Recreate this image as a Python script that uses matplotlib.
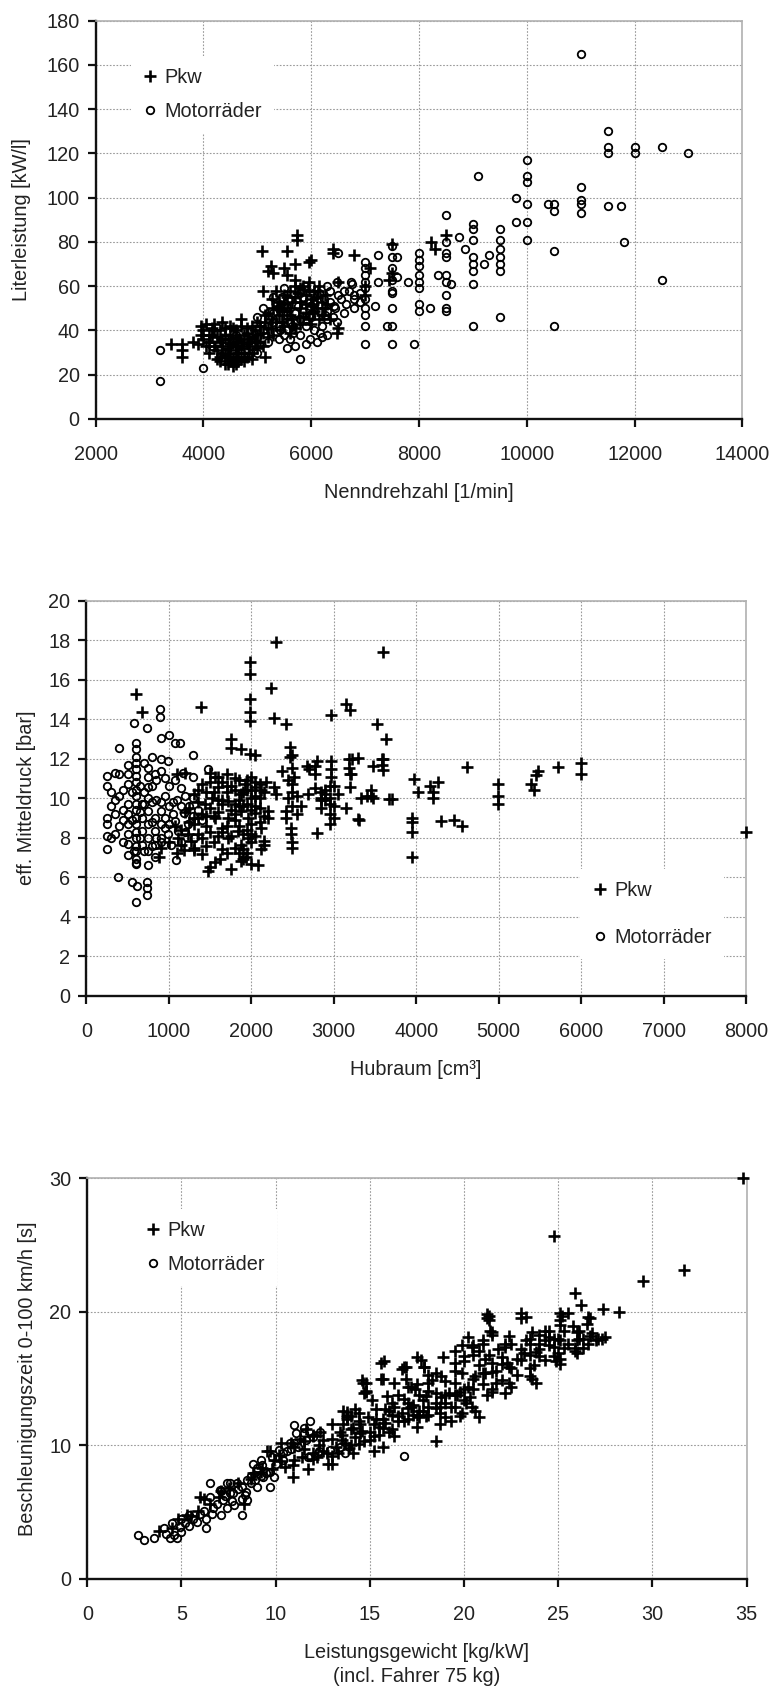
import matplotlib
matplotlib.use('Agg')
import matplotlib.pyplot as plt
from matplotlib.ticker import MultipleLocator

plt.rcParams['font.family'] = ['Liberation Sans', 'DejaVu Sans']
plt.rcParams['text.color'] = '#222222'
plt.rcParams['axes.labelcolor'] = '#222222'
plt.rcParams['xtick.color'] = '#111111'
plt.rcParams['ytick.color'] = '#111111'
plt.rcParams['xtick.labelcolor'] = '#222222'
plt.rcParams['ytick.labelcolor'] = '#222222'

# ---- Panel 1: Nenndrehzahl [1/min] vs Literleistung [kW/l] ----
p1_pkw_rpm = [3400, 3600, 3600, 3600, 3950, 3950, 3900, 4000, 4100, 4100, 4050, 4200, 4250, 4300, 4350,
              4350, 4400, 4400, 4450, 4500, 4500, 4550, 4550, 4600, 4600, 4650, 4700, 4700, 4750, 4750,
              4800, 4850, 4900, 4900, 5000, 5000, 5050, 5150, 5200, 4200, 4300, 4450, 4650, 4800, 4250,
              4150, 4500, 4600, 4700, 4950, 4850, 5100,
              5100, 5080, 5250, 5200, 5300, 5500, 5550, 5550, 5700, 5730, 5730, 5950, 6000, 5700, 5950,
              5850, 6130, 5270, 5360, 5550, 5770, 6040, 5950, 5640, 5430, 5270, 5050, 5550, 6040, 6480,
              6500, 5400, 5500, 5600, 5650, 5700, 5800, 5800, 5900, 5900, 6000, 6100, 6150, 6200, 6250,
              5350, 5450, 5600, 5700, 5200, 5300, 5150, 6300, 6050, 6200,
              6400, 6400, 6790, 7000, 7100, 7500, 7500, 7450, 8230, 8300, 8500, 6500, 7000,
              4100, 4150, 4200, 4250, 4300, 4350, 4400, 4450, 4500, 4550, 4550, 4600, 4650, 4650, 4700,
              4750, 4800, 4850, 4900, 4950, 5000, 5050, 5100, 5150, 5250, 5300, 5350, 5400, 5450, 5500,
              5500, 5550, 5600, 5650, 5700, 5750, 5800, 5850, 5900, 5950, 6000, 6050, 6100, 6150, 6250,
              6350, 4000, 4050, 3800, 4350, 4450, 4600,
              4300, 4400, 4500, 4600, 4700, 4800, 4900, 5000, 5200, 5400, 5600, 5800, 6000]
p1_pkw_kwl = [34, 34, 31, 28, 42, 38, 34, 36, 35, 30, 43, 40, 31, 40, 44,
              33, 38, 25, 28, 26, 31, 35, 24, 25, 40, 30, 27, 45, 38, 26,
              34, 30, 30, 42, 32, 38, 42, 28, 37, 33, 28, 36, 33, 41, 37,
              38, 42, 28, 32, 35, 36, 33,
              58, 76, 69, 67, 66, 68, 65, 76, 70, 83, 81, 71, 72, 63, 62,
              60, 58, 54, 51, 49, 46, 48, 45, 42, 40, 45, 42, 55, 52, 39,
              41, 47, 52, 58, 45, 55, 50, 43, 56, 48, 54, 50, 60, 47, 56,
              58, 44, 39, 60, 48, 38, 44, 52, 58, 53,
              77, 75, 74, 60, 68, 79, 66, 63, 80, 77, 83, 62, 56,
              38, 41, 43, 27, 35, 30, 41, 32, 38, 27, 41, 33, 36, 26, 35,
              30, 28, 33, 37, 40, 44, 35, 39, 47, 41, 50, 44, 53, 49, 42,
              56, 45, 50, 53, 41, 57, 53, 46, 52, 58, 43, 49, 55, 45, 50,
              45, 40, 33, 35, 36, 25, 37,
              26, 29, 34, 30, 42, 39, 27, 35, 41, 50, 47, 59, 51]

p1_moto_rpm = [3200, 3200, 4000, 5800, 5550, 5980, 6480, 6730, 7000, 7000, 7000, 7000, 7000, 7000, 7000,
               7000, 7000, 7000, 7230, 7230, 7190, 6790, 6600, 6500, 6415, 6290, 6170, 6230, 6480, 5980,
               5790, 5490, 5490, 5300, 5180, 4990, 4870, 4680, 4530, 4340, 4150, 4990, 5430, 5670, 5610,
               5890, 6100, 6290, 6290, 6500, 6800, 6750, 7500, 7500, 7500, 7500, 7500, 7500, 7500, 7500,
               7500, 7400, 7600, 7600, 7800, 7900, 8000, 8000, 8000, 8000, 8000, 8000, 8000, 8000, 8200,
               8350, 8500, 8500, 8500, 8500, 8500, 8500, 8500, 8500, 8500, 8600, 8750, 8850, 9000, 9000,
               9000, 9000, 9000, 9000, 9000, 9000, 9100, 9200, 9300, 9500, 9500, 9500, 9500, 9500, 9500,
               9500, 9800, 9800, 10000, 10000, 10000, 10000, 10000, 10000, 10400, 10500, 10500, 10500,
               10500, 11000, 11000, 11000, 11000, 11000, 11500, 11500, 11500, 11500, 11750, 11800, 12000,
               12000, 12500, 12500, 13000,
               5200, 5400, 5600, 5800, 5900, 6000, 6050, 6200, 6300, 6400, 6100, 5700, 5500, 5100, 5300,
               5400, 5700, 6000, 5800, 4800, 4600, 4400, 4200, 4500, 4700, 5000, 6350, 6600, 6650, 6900,
               5300, 5450, 5550, 5650, 5750, 5850, 5950, 6050, 6150, 6250, 6350, 6450, 6550, 6700, 6800,
               6900, 5600, 5900, 6200, 4900, 5100, 5200]
p1_moto_kwl = [31, 17, 23, 27, 32, 36, 62, 62, 71, 68, 65, 62, 59, 54, 50,
               47, 42, 34, 74, 62, 51, 54, 48, 56, 51, 45, 39, 54, 44, 51,
               45, 59, 51, 48, 42, 46, 40, 34, 31, 36, 33, 37, 40, 39, 54,
               60, 56, 60, 49, 75, 56, 61, 78, 73, 68, 63, 58, 57, 50, 42,
               34, 42, 73, 64, 62, 34, 75, 72, 69, 65, 62, 59, 52, 49, 50,
               65, 92, 80, 75, 73, 65, 62, 56, 50, 49, 61, 82, 77, 88, 86,
               81, 73, 70, 67, 61, 42, 110, 70, 74, 86, 81, 77, 73, 70, 67,
               46, 100, 89, 117, 110, 107, 97, 89, 81, 97, 97, 94, 76,
               42, 165, 105, 99, 97, 93, 130, 123, 120, 96, 96, 80, 123,
               120, 123, 63, 120,
               35, 36, 44, 38, 42, 46, 40, 42, 38, 46, 35, 33, 38, 50, 55,
               42, 48, 60, 57, 36, 38, 33, 36, 28, 30, 30, 58, 58, 52, 53,
               44, 55, 47, 42, 51, 55, 47, 52, 57, 47, 53, 50, 54, 58, 50,
               57, 36, 34, 37, 33, 40, 45]

# ---- Panel 2: Hubraum [cm3] vs eff. Mitteldruck [bar] ----
p2_pkw_ccm = [600, 670, 1390, 2300, 3600, 1980, 1980, 2240, 1980, 1980, 1980, 2280, 2420, 2970, 3150,
              3200, 3520, 3630, 1760, 1760, 1870, 1980, 2050, 2470, 2470, 3590, 3590, 3480, 2670, 2770,
              2770, 2800, 2970, 2970, 2970, 3190, 3300, 3190, 2370, 2490, 1500, 1600, 2180, 2280, 3210,
              3200, 3670, 3450, 3330, 2500, 2500, 2520, 2420, 2420, 2200, 2480, 2480, 2500, 2500, 2800,
              3290, 2950, 2950, 3000, 2950, 2850, 2890, 2770, 2690, 3450, 3150, 1940, 1880, 2000, 2080,
              2120, 2160, 1480, 1760, 1500, 1620, 1560, 1920, 2000, 2040, 1880, 2000, 2120, 1800, 1720,
              1800, 1880, 1960, 2040, 2000, 1560, 1600, 1520, 1640, 1560, 1640, 1720, 1440, 1400, 1310,
              1350, 1270, 1310, 1400, 1150, 1230, 1190, 1720, 1800, 1840, 1960, 1880, 2120, 2160, 1070,
              1110, 880, 2200, 3600, 3600, 3708, 3978, 4020, 3950, 3950, 3950, 3950, 4170, 4210, 4200,
              4260, 4300, 4460, 4560, 4620, 4990, 4990, 4990, 5390, 5430, 5480, 5450, 5715, 6000, 6000,
              8000, 3480, 3400, 3310, 3220, 3200, 2700, 2500, 1900, 1950, 2050, 1850, 1700, 1650, 1450,
              1300, 1200, 1350, 1250, 1150, 1000, 900, 1100, 2100, 2300, 2600, 2550, 2900, 3050, 2850,
              3000, 1100, 1200, 1700,
              1250, 1300, 1350, 1400, 1450, 1500, 1500, 1550, 1550, 1600, 1600, 1650, 1650, 1700, 1700,
              1750, 1750, 1800, 1800, 1850, 1850, 1900, 1900, 1950, 1950, 2000, 2000, 2000, 2050, 2050,
              2100, 2100, 2150, 1950, 1900, 1850, 2450, 2550, 2500, 2450, 2850, 2900, 2950, 2950, 3000,
              2850,
              1300, 1350, 1450, 1500, 1550, 1600, 1650, 1700, 1750, 1800, 1850, 1900, 1950, 2000, 2050,
              2100, 2150, 1400, 1450]
p2_pkw_bar = [15.3, 14.35, 14.6, 17.9, 17.4, 16.9, 16.3, 15.6, 15.0, 14.35, 13.9, 14.05, 13.75, 14.2, 14.75,
              14.45, 13.75, 13.0, 13.0, 12.55, 12.5, 12.25, 12.2, 12.6, 12.1, 12.0, 11.7, 11.65, 11.65, 11.65,
              11.2, 11.9, 11.9, 11.5, 11.05, 12.0, 12.05, 11.55, 11.4, 11.55, 11.3, 11.05, 10.8, 10.55, 11.2,
              10.55, 9.95, 10.1, 10.0, 10.3, 10.7, 11.05, 9.35, 9.0, 9.35, 8.5, 8.2, 7.8, 7.5, 8.25,
              8.95, 9.7, 9.2, 9.0, 8.7, 10.0, 10.2, 10.5, 10.2, 10.4, 9.5, 7.0, 6.8, 6.65, 6.6,
              7.4, 7.65, 6.3, 6.4, 6.5, 6.9, 6.75, 10.7, 11.05, 10.55, 10.2, 10.0, 10.4, 10.4, 9.85,
              9.7, 9.35, 9.0, 9.25, 8.7, 11.05, 10.55, 10.0, 9.7, 9.0, 8.5, 9.0, 9.7, 9.2, 8.7,
              8.2, 7.85, 7.35, 7.15, 7.65, 8.2, 7.35, 8.0, 7.5, 8.35, 8.0, 7.65, 8.5, 7.85, 8.6,
              8.0, 7.0, 9.0, 11.96, 11.45, 9.97, 10.95, 10.3, 9.0, 8.8, 8.3, 7.0, 10.6, 10.0, 10.3,
              10.8, 8.83, 8.9, 8.6, 11.6, 10.7, 10.1, 9.7, 10.7, 10.4, 11.4, 11.17, 11.57, 11.8, 11.2,
              8.3, 10.0, 10.1, 8.9, 12.0, 11.2, 11.5, 12.2, 10.3, 10.9, 10.8, 9.9, 10.3, 10.8, 8.6,
              7.5, 9.3, 9.8, 8.8, 8.4, 7.8, 7.5, 7.2, 10.0, 10.2, 9.6, 9.2, 9.9, 10.2, 9.5,
              10.6, 11.2, 11.3, 11.2,
              9.5, 10.2, 9.0, 8.0, 10.3, 9.5, 8.3, 7.8, 10.3, 9.3, 8.1, 7.4, 9.9, 8.6, 7.2,
              10.6, 9.4, 8.9, 11.0, 8.6, 10.9, 9.6, 7.4, 10.4, 8.4, 10.4, 9.4, 7.8, 10.1, 8.1,
              10.7, 9.5, 9.1, 7.2, 6.9, 7.2, 10.0, 10.1, 9.6, 10.9, 10.3, 10.4, 10.0, 10.6, 9.6,
              9.9,
              9.0, 10.4, 7.6, 10.8, 9.1, 9.9, 8.3, 10.6, 8.1, 9.2, 9.6, 8.2, 9.7, 8.2, 9.6,
              8.8, 10.3, 10.7, 9.1]

p2_moto_ccm = [890, 890, 580, 740, 900, 1000, 1070, 1130, 395, 600, 600, 600, 600, 600, 600,
               600, 600, 600, 600, 600, 600, 600, 600, 600, 600, 600, 600, 600, 1290, 910,
               990, 510, 250, 250, 350, 400, 510, 510, 750, 750, 750, 750, 830, 910, 1070,
               1170, 1470, 250, 250, 250, 250, 350, 400, 510, 510, 510, 510, 510, 510, 670,
               670, 670, 670, 750, 750, 750, 750, 750, 830, 830, 830, 830, 910, 910, 910,
               950, 990, 1030, 1070, 1110, 1150, 1190, 1230, 1290, 1290, 1090, 390, 550, 610, 740,
               740, 740, 600, 580, 600, 1290, 700, 800, 850, 950, 1000, 1050, 1150, 1200, 1350,
               1400, 1300, 700, 800, 450, 450, 350, 650,
               300, 300, 450, 450, 550, 550, 650, 650, 700, 700, 800, 800, 800, 850, 850,
               900, 900, 950, 1000, 1050, 1100, 1150, 1200, 1250, 1000, 950, 400, 350, 300]
p2_moto_bar = [14.5, 14.1, 13.8, 13.55, 13.05, 13.2, 12.8, 12.8, 12.55, 12.8, 12.5, 12.1, 11.8, 11.5, 11.1,
               10.8, 10.4, 10.1, 9.7, 9.4, 9.0, 8.7, 8.3, 8.0, 7.6, 7.3, 6.9, 6.7, 12.2, 12.0,
               11.9, 11.7, 11.1, 10.6, 11.3, 11.2, 11.2, 10.7, 11.55, 11.05, 10.55, 10.0, 11.2, 11.4, 10.9,
               11.3, 11.5, 9.0, 8.7, 8.1, 7.4, 9.2, 10.1, 9.7, 9.2, 8.7, 8.2, 7.7, 7.1, 9.7,
               9.0, 8.35, 7.65, 9.35, 8.7, 8.0, 7.3, 6.6, 9.0, 8.35, 7.65, 7.0, 9.35, 8.7, 8.0,
               8.5, 8.2, 7.65, 8.85, 8.35, 7.8, 9.25, 8.7, 10.0, 9.1, 6.85, 6.0, 5.75, 5.55, 5.75,
               5.45, 5.1, 4.75, 7.3, 6.65, 11.05, 10.3, 10.6, 9.9, 10.1, 9.6, 9.8, 9.6, 10.1, 9.4,
               8.9, 8.0, 11.8, 12.1, 10.4, 8.9, 9.9, 10.6,
               9.6, 10.3, 9.4, 7.8, 10.3, 8.9, 9.3, 8.0, 9.7, 7.3, 9.8, 8.8, 7.6, 10.9, 8.0,
               9.8, 7.8, 9.0, 8.7, 9.2, 9.9, 10.5, 8.3, 9.6, 10.6, 11.0, 8.6, 8.2, 8.0]

# ---- Panel 3: Leistungsgewicht [kg/kW] vs Beschleunigungszeit 0-100 km/h [s] ----
p3_pkw_kgkw = [34.8, 24.8, 31.7, 29.5, 25.9, 26.2, 27.4, 28.2, 26.7, 25.1, 25.1, 25.5, 23.0, 23.3, 21.3,
               21.3, 21.5, 26.0, 26.0, 26.7, 27.1, 25.9, 24.3, 24.8, 24.8, 24.0, 23.7, 24.9, 23.6, 22.4,
               23.6, 22.2, 20.5, 20.2, 21.0, 20.8, 18.5, 17.7, 17.9, 18.1, 15.75, 15.7, 16.8, 16.9, 17.2,
               14.8, 14.7, 13.8, 9.7, 13.0,
               25.2, 25.1, 26.6, 23.0, 21.2, 21.2, 21.4, 21.5, 26.1, 26.1, 26.3, 27.3, 26.6, 25.9, 26.0,
               24.3, 24.5, 25.1, 25.3, 25.1, 25.1, 23.5, 23.5, 23.2, 22.8, 24.0, 22.4, 22.2, 23.8, 21.0,
               20.8, 20.4, 19.9, 19.5, 20.0, 18.9, 17.5, 17.9, 16.9, 16.7, 15.6, 15.6, 14.6, 14.8, 13.6,
               14.4, 22.2, 22.4, 21.7, 21.5, 22.0, 21.7, 21.1, 21.1, 20.6, 20.2, 19.9, 19.5, 19.2, 18.8,
               20.0, 20.4, 19.9, 19.5, 18.1, 18.5, 17.8, 17.4, 17.2, 16.3, 15.9, 16.3, 15.8, 16.7, 15.1,
               15.3, 14.9, 14.2, 13.8, 18.1, 18.7, 19.0, 17.6,
               9.55, 10.3, 12.35, 13.77, 13.8, 14.65, 14.8, 5.98,
               3.8, 4.8, 5.3, 5.9, 6.2, 7.1, 8.3, 8.7, 9.2, 9.8, 10.3, 10.9, 11.4, 10.9, 11.7,
               12.2, 12.8, 13.3, 13.9, 14.4, 12.5, 13.4, 14.1, 14.6, 15.2, 13.6, 14.4, 15.2, 15.7, 12.0,
               11.0, 12.0, 14.1, 15.2, 15.7, 16.3, 15.7, 16.2, 16.8, 17.3, 16.2, 17.0, 17.6, 18.1, 18.7,
               18.7, 19.3, 19.8, 19.0, 19.6, 20.1, 20.6, 21.2, 18.1, 17.6, 17.0, 10.8, 11.3, 11.6,
               10.5, 11.0, 11.5, 12.0, 12.3, 12.7, 13.0, 13.2, 13.5, 13.7, 14.0, 14.2, 14.5, 14.7, 15.0,
               15.3, 15.5, 15.8, 16.0, 16.2, 16.5, 16.8, 17.0, 17.3, 17.5, 17.8, 18.0, 18.3, 18.5, 18.8,
               19.0, 19.3, 19.5, 19.8, 20.0, 20.3, 20.5, 20.8, 21.0, 21.3, 21.5, 21.8, 22.0, 22.3, 22.5,
               22.8, 23.0, 23.3, 23.5, 23.8, 24.0, 24.3, 24.5, 24.8, 25.0, 25.3, 25.5, 25.8, 26.3, 26.5,
               26.8, 27.0, 27.5,
               4.5, 5.5, 6.5, 7.0, 7.5, 8.0, 8.8, 9.3, 9.9, 10.2,
               12.5, 13.0, 13.5, 14.0, 14.5, 15.0, 15.5, 16.0, 16.5, 17.0, 17.5, 18.0, 18.5, 19.0, 19.5,
               20.0, 20.5, 21.0, 21.5, 22.0, 22.5, 23.0, 23.5, 24.0, 24.5, 25.0, 11.5, 12.0, 13.0, 14.0,
               16.5, 17.5, 18.5, 19.5, 20.5, 21.5, 22.5, 23.5]
p3_pkw_sec = [30.0, 25.7, 23.1, 22.3, 21.4, 20.5, 20.2, 20.0, 19.5, 19.9, 19.0, 19.9, 19.9, 19.6, 19.7,
              19.4, 18.5, 18.5, 17.9, 18.2, 18.0, 17.1, 17.9, 17.4, 16.7, 17.2, 16.0, 16.3, 18.5, 18.2,
              15.0, 17.6, 17.5, 18.1, 17.9, 12.1, 10.3, 16.4, 15.9, 15.3, 16.3, 15.0, 15.9, 15.0, 14.4,
              14.7, 13.9, 12.3, 9.6, 8.6,
              19.7, 19.4, 19.6, 19.5, 19.8, 19.5, 18.6, 18.3, 18.6, 18.0, 18.0, 18.0, 17.6, 17.3, 16.9,
              18.6, 18.1, 17.9, 17.3, 16.5, 16.1, 18.0, 17.6, 16.9, 16.5, 16.7, 15.9, 17.4, 14.7, 17.6,
              17.1, 17.4, 17.5, 17.1, 16.7, 16.6, 16.6, 15.9, 15.9, 15.7, 16.2, 15.0, 14.9, 14.1, 12.6,
              12.4, 13.9, 14.7, 14.7, 14.2, 16.1, 15.6, 16.5, 15.4, 15.2, 14.4, 15.4, 14.7, 13.9, 15.2,
              13.4, 12.9, 12.4, 12.9, 14.7, 13.9, 13.4, 14.2, 12.9, 14.7, 13.7, 12.9, 12.7, 12.4, 13.4,
              12.7, 12.1, 12.7, 12.1, 12.9, 12.4, 12.1, 12.1,
              9.6, 10.16, 11.0, 12.5, 12.0, 14.65, 14.0, 6.16,
              3.6, 4.5, 4.8, 5.1, 6.0, 6.6, 5.6, 7.5, 8.0, 8.2, 8.8, 8.5, 9.1, 7.6, 8.2,
              9.1, 8.6, 9.4, 9.8, 10.1, 10.4, 11.0, 11.3, 11.1, 10.7, 11.6, 11.8, 11.6, 11.3, 10.7,
              9.9, 9.4, 9.4, 9.6, 9.9, 10.7, 12.0, 12.3, 11.8, 12.3, 13.2, 13.2, 12.6, 12.3, 12.9,
              11.6, 11.8, 12.2, 13.8, 13.8, 13.2, 12.6, 13.8, 14.1, 13.8, 14.4, 10.2, 10.5, 11.2,
              8.4, 8.9, 9.7, 9.0, 10.0, 9.4, 10.5, 9.9, 10.8, 10.2, 11.2, 10.6, 11.6, 10.3, 11.0,
              12.0, 10.8, 11.7, 12.6, 11.2, 12.2, 13.5, 12.0, 13.0, 11.4, 12.6, 13.7, 14.9, 12.8, 13.6,
              14.8, 12.9, 15.6, 14.0, 16.3, 13.6, 15.0, 16.0, 14.6, 16.8, 15.5, 17.2, 14.9, 16.2, 17.6,
              15.3, 16.4, 17.9, 15.8, 17.0, 18.3, 16.4, 17.5, 18.0, 16.9, 18.6, 17.6, 18.9, 17.3, 19.1,
              18.4, 17.9, 18.1,
              3.8, 4.7, 5.6, 6.1, 6.8, 7.2, 7.9, 8.3, 8.9, 9.3,
              9.6, 9.2, 10.4, 10.0, 10.9, 10.4, 11.4, 11.0, 11.8, 12.8, 12.3, 12.2, 13.2, 13.2, 13.8,
              14.2, 14.2, 15.4, 16.2, 16.6, 15.8, 17.2, 16.8, 17.6, 18.6, 18.0, 10.3, 10.8, 11.6, 12.2,
              13.8, 14.6, 15.4, 16.2, 16.8, 14.0, 14.4, 15.2]

p3_moto_kgkw = [6.5, 11.8, 11.1, 10.76, 11.6, 9.2, 9.0, 9.34, 9.9, 9.7, 7.4, 7.93, 8.46, 9.0, 7.04,
                7.75, 8.37, 6.51, 12.26, 12.35, 12.9, 10.2, 11.8,
                2.7, 3.0, 3.55, 4.07, 4.5, 4.6, 4.75, 5.0, 5.4, 5.4, 5.6, 6.0, 6.3, 6.7, 7.2,
                7.1, 7.6, 8.2, 7.4, 7.6, 8.2, 8.7, 7.8, 8.2, 8.5, 7.1, 6.3, 8.7, 9.2, 9.7,
                8.8, 9.3, 11.0, 11.5, 12.0, 16.8, 11.5, 10.6, 11.0, 9.8, 10.4, 12.3, 13.4, 13.7, 11.7,
                4.2, 4.9, 5.2, 5.8, 6.2, 6.6, 6.9, 7.3, 7.7, 8.0, 8.4, 8.9, 9.5, 10.0, 10.4,
                10.8, 11.2, 9.0, 5.0, 4.4]
p3_moto_sec = [7.2, 11.8, 10.9, 10.16, 10.4, 8.9, 8.3, 7.66, 7.66, 6.9, 7.16, 7.16, 7.4, 6.9, 6.66,
               6.4, 6.29, 6.16, 9.41, 11.03, 9.66, 9.66, 9.16,
               3.3, 2.9, 3.1, 3.78, 4.2, 3.3, 3.1, 4.5, 4.0, 4.8, 4.5, 4.9, 4.5, 5.3, 5.9,
               6.6, 6.4, 6.0, 5.3, 7.2, 6.9, 7.2, 5.5, 4.8, 5.9, 4.8, 3.8, 7.7, 7.7, 8.0,
               8.6, 8.5, 11.5, 10.9, 10.6, 9.2, 11.3, 9.6, 10.2, 9.1, 9.4, 9.6, 9.9, 9.4, 9.1,
               3.4, 3.9, 4.2, 4.3, 5.1, 4.9, 5.6, 6.2, 5.8, 6.7, 6.5, 7.4, 7.9, 8.6, 8.9,
               9.7, 9.9, 8.1, 3.5, 3.1]

FS = 14.3


def style_axes(ax, xlim, ylim, xstep, ystep):
    ax.set_xlim(*xlim)
    ax.set_ylim(*ylim)
    ax.xaxis.set_major_locator(MultipleLocator(xstep))
    ax.yaxis.set_major_locator(MultipleLocator(ystep))
    ax.grid(True, color='#9a9a9a', linestyle=(0, (1.5, 1.5)), linewidth=0.8)
    ax.set_axisbelow(True)
    for side in ['left', 'bottom']:
        ax.spines[side].set_color('#111111')
        ax.spines[side].set_linewidth(1.7)
    for side in ['top', 'right']:
        ax.spines[side].set_color('#b0b0b0')
        ax.spines[side].set_linewidth(1.2)
    ax.tick_params(axis='both', direction='out', length=5.5, width=1.6, labelsize=FS)
    ax.tick_params(axis='x', pad=13.5)
    ax.tick_params(axis='y', pad=6)


def draw(ax, px, py, mx, my):
    ax.plot(px, py, linestyle='none', marker='+', markersize=8.5, markeredgewidth=1.9,
            color='black', label='Pkw', clip_on=False, zorder=3)
    ax.plot(mx, my, linestyle='none', marker='o', markersize=5.4, markerfacecolor='none',
            markeredgecolor='black', markeredgewidth=1.3, label='Motorräder', clip_on=False, zorder=3)


def add_legend(ax, anchor, spacing):
    ax.legend(loc='upper left', bbox_to_anchor=anchor, fontsize=FS, frameon=True,
              facecolor='white', edgecolor='none', framealpha=1, fancybox=False,
              handlelength=0.8, handletextpad=0.3, borderpad=0.6, labelspacing=spacing,
              borderaxespad=0)


fig = plt.figure(figsize=(7.75, 16.88), dpi=100)

ax1 = fig.add_axes([0.1234, 0.7518, 0.8345, 0.2360])
draw(ax1, p1_pkw_rpm, p1_pkw_kwl, p1_moto_rpm, p1_moto_kwl)
style_axes(ax1, (2000, 14000), (0, 180), 2000, 20)
ax1.set_xlabel('Nenndrehzahl [1/min]', fontsize=FS, labelpad=13.5)
ax1.set_ylabel('Literleistung [kW/l]', fontsize=FS, labelpad=11)
add_legend(ax1, (0.054, 0.912), 0.78)

ax2 = fig.add_axes([0.1114, 0.4102, 0.8512, 0.2339])
draw(ax2, p2_pkw_ccm, p2_pkw_bar, p2_moto_ccm, p2_moto_bar)
style_axes(ax2, (0, 8000), (0, 20), 1000, 2)
ax2.set_xlabel('Hubraum [cm³]', fontsize=FS, labelpad=13.5)
ax2.set_ylabel('eff. Mitteldruck [bar]', fontsize=FS, labelpad=9)
add_legend(ax2, (0.749, 0.320), 1.4)

ax3 = fig.add_axes([0.1126, 0.0646, 0.8508, 0.2374])
draw(ax3, p3_pkw_kgkw, p3_pkw_sec, p3_moto_kgkw, p3_moto_sec)
style_axes(ax3, (0, 35), (0, 30), 5, 10)
ax3.set_xlabel('Leistungsgewicht [kg/kW]\n(incl. Fahrer 75 kg)', fontsize=FS, labelpad=13.5,
               linespacing=1.3)
ax3.set_ylabel('Beschleunigungszeit 0-100 km/h [s]', fontsize=FS, labelpad=9)
add_legend(ax3, (0.070, 0.924), 0.78)

fig.savefig('out.png', dpi=100)
